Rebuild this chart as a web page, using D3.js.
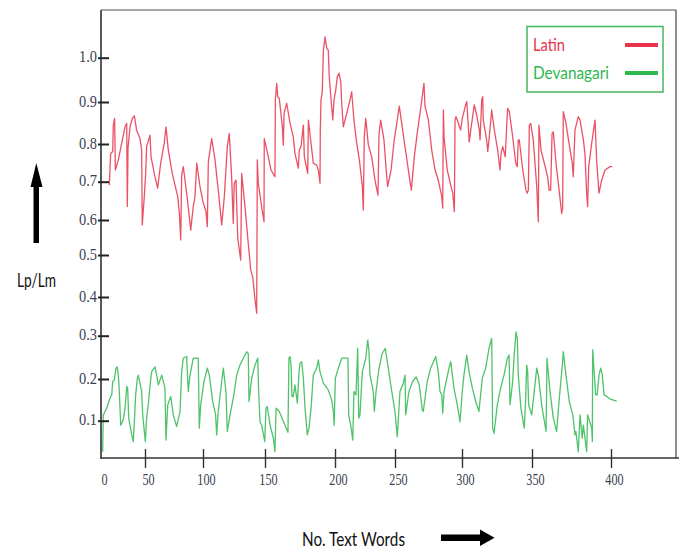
<!DOCTYPE html>
<html>
<head>
<meta charset="utf-8">
<script src="https://cdn.jsdelivr.net/npm/d3@7"></script>
<style>
  html, body { margin: 0; padding: 0; background: #ffffff; }
  svg { display: block; }
</style>
</head>
<body>
<script>
// ---------------- DATA ----------------
const seriesNames = ["Latin", "Devanagari"];
const xTicks = [0, 50, 100, 150, 200, 250, 300, 350, 400];
const yTicks = [0.1, 0.2, 0.3, 0.4, 0.5, 0.6, 0.7, 0.8, 0.9, 1.0];

const latinWords = [9.4, 11, 13.3, 14, 15.5, 16.3, 19.7, 23.5, 27.3, 29.2, 29.9, 30.7, 33, 35.6, 37.9, 40.5, 44.3, 46.2, 46.9, 49.2,
  50.6, 51.4, 54.3, 55.2, 58, 60.9, 63.5, 66.6, 68.1, 70.1, 73.5, 78.2, 79.6, 80.8, 81.6, 83, 85.9, 88.2, 89.4, 91.6,
  93.1, 94.6, 97.4, 100.2, 102.4, 103.5, 104.3, 107, 109.7, 112.3, 115.1, 117.2, 119.6, 121.2, 123.1, 124.4, 125.2, 126.6, 128, 130.4,
  131.2, 134.1, 136.5, 138.5, 140.1, 142, 143.3, 143.8, 144.6, 147.3, 149.2, 149.4, 152.4, 154.3, 157.1, 157.4, 158.4, 159.1, 160.2, 162.4,
  163.1, 163.6, 165.5, 167.9, 170.2, 171.4, 173.8, 174.5, 175.7, 177.4, 178.1, 180.5, 181, 182.6, 184.5, 186.9, 188.1, 189.3, 189.5, 190,
  190.9, 191.7, 192.9, 194.1, 195.2, 195.9, 196.9, 198.4, 199.3, 200.6, 201.9, 203.3, 204.8, 205.6, 206.9, 209.8, 212.5, 213.9, 215.8, 218.1,
  220.3, 222.8, 223.6, 224.4, 225.6, 227.8, 230.6, 233.3, 235.8, 236.7, 238.1, 240.8, 243.1, 243.9, 246.7, 249.4, 253.2, 255.7, 258.2, 260.7,
  262.2, 264.4, 266.9, 269.4, 271.6, 272.4, 274.9, 277.4, 279.9, 282.3, 284.9, 285.6, 286.1, 286.6, 289, 291.8, 293.1, 294.3, 294.8, 295.5,
  296.5, 299, 300.2, 302.6, 303.4, 304.5, 305.2, 306.4, 308.8, 310.5, 312.4, 312.9, 314.1, 314.8, 315.2, 317.6, 318.4, 319.5, 321.2, 323.1,
  325.5, 327.1, 327.9, 329.1, 330.9, 331.9, 332.6, 333.8, 335.9, 338.4, 339.5, 340.2, 340.9, 343.4, 345.7, 346.6, 347.4, 348.1, 349.1, 350.8,
  353, 354, 354.4, 355.7, 357.8, 359.9, 360.8, 361.8, 362.7, 363.5, 365.2, 366.9, 368.8, 369.4, 369.8, 371.5, 373.4, 375.5, 376.1, 377.2,
  379.3, 380.4, 382.5, 383.5, 384.6, 385.2, 385.9, 387.8, 389.9, 390.9, 392.4, 394.1, 396.2, 399.4, 400.8];
const latinValues = [0.691, 0.775, 0.78, 0.845, 0.861, 0.731, 0.758, 0.802, 0.841, 0.849, 0.635, 0.789, 0.841, 0.861, 0.867, 0.833, 0.813, 0.784, 0.586, 0.661,
  0.722, 0.793, 0.821, 0.766, 0.722, 0.683, 0.749, 0.802, 0.841, 0.784, 0.722, 0.661, 0.617, 0.543, 0.717, 0.74, 0.67, 0.609, 0.571, 0.635,
  0.661, 0.749, 0.687, 0.644, 0.622, 0.581, 0.753, 0.813, 0.758, 0.678, 0.586, 0.661, 0.793, 0.825, 0.713, 0.59, 0.696, 0.704, 0.548, 0.488,
  0.722, 0.626, 0.533, 0.464, 0.448, 0.392, 0.358, 0.758, 0.696, 0.635, 0.595, 0.813, 0.766, 0.731, 0.713, 0.905, 0.942, 0.912, 0.908, 0.841,
  0.797, 0.873, 0.897, 0.849, 0.817, 0.775, 0.736, 0.784, 0.793, 0.845, 0.766, 0.722, 0.857, 0.81, 0.749, 0.744, 0.731, 0.696, 0.833, 0.905,
  0.923, 1.017, 1.047, 1.021, 1.017, 0.957, 0.916, 0.857, 0.905, 0.927, 0.957, 0.965, 0.946, 0.897, 0.841, 0.873, 0.905, 0.923, 0.857, 0.802,
  0.758, 0.687, 0.626, 0.817, 0.861, 0.797, 0.766, 0.704, 0.665, 0.825, 0.857, 0.81, 0.713, 0.687, 0.731, 0.81, 0.89, 0.833, 0.775, 0.713,
  0.678, 0.766, 0.833, 0.89, 0.942, 0.89, 0.857, 0.784, 0.731, 0.704, 0.661, 0.631, 0.881, 0.817, 0.731, 0.687, 0.67, 0.622, 0.857, 0.865,
  0.857, 0.833, 0.861, 0.893, 0.901, 0.841, 0.805, 0.837, 0.893, 0.869, 0.833, 0.81, 0.905, 0.912, 0.857, 0.81, 0.78, 0.817, 0.881, 0.833,
  0.784, 0.731, 0.775, 0.793, 0.766, 0.841, 0.885, 0.877, 0.825, 0.749, 0.74, 0.81, 0.81, 0.731, 0.678, 0.67, 0.678, 0.845, 0.849, 0.81,
  0.687, 0.595, 0.845, 0.784, 0.749, 0.713, 0.678, 0.678, 0.825, 0.829, 0.749, 0.687, 0.617, 0.631, 0.877, 0.849, 0.802, 0.749, 0.713, 0.833,
  0.865, 0.857, 0.81, 0.775, 0.67, 0.635, 0.74, 0.802, 0.857, 0.758, 0.67, 0.704, 0.731, 0.74, 0.74];

const devanagariWords = [1.9, 2.6, 6.5, 10.2, 12.2, 13.3, 15.1, 17, 18.5, 19.7, 20.8, 22.4, 25.3, 27.3, 29.2, 30.3, 31.5, 34.9, 36.7, 37.9,
  39.4, 41.3, 42.4, 46.2, 47.4, 50.3, 51.4, 52.8, 54.3, 55.7, 58.6, 60.1, 61.5, 64.4, 67.2, 68.1, 69.6, 72.2, 74.4, 77.3,
  80.2, 81.6, 83, 85.9, 87.3, 88.8, 91.6, 95.9, 96.8, 98, 100.8, 103.5, 105.1, 107.8, 110.2, 111, 112.3, 115.1, 116.4, 118.5,
  119.6, 121.8, 124.4, 127.2, 129.8, 132.5, 135.2, 136.5, 137.1, 139.3, 141.9, 144.1, 144.9, 146, 147.3, 149.8, 150.7, 151.6, 153.6, 156,
  157.1, 157.9, 160.2, 162.6, 166.4, 167.1, 167.9, 168.6, 169.3, 170.2, 171.4, 173.1, 174.3, 175, 176.2, 177.4, 178.6, 180.2, 181.4, 182.9,
  184.5, 186.9, 188.1, 189.3, 191.7, 195.2, 197.6, 198.8, 199.4, 200.3, 202.8, 205.6, 210.8, 211.4, 213.1, 214.8, 215.8, 217.5, 218.9, 219.8,
  220.8, 222.8, 225.6, 227.3, 228.3, 229.2, 231.9, 232.8, 234.2, 236.7, 239.4, 241.9, 244.4, 247.3, 250, 251.7, 253.7, 256.2, 257.5, 258,
  260.4, 263.2, 265.7, 268.1, 270.4, 271.1, 274.1, 276.6, 280.4, 282.3, 283.6, 284.9, 285.6, 286.6, 290.3, 291.6, 294, 296.5, 298.5, 300.2,
  301.4, 303.4, 305, 307.4, 309.8, 312.1, 314.5, 316.9, 319.3, 321.2, 321.9, 322.9, 325.2, 327.6, 330, 332.4, 333.6, 334.3, 336.2, 337.1,
  338.6, 339.5, 340.2, 342.1, 344.5, 345.5, 346.2, 346.9, 347.6, 349.8, 353, 354, 356.1, 358.9, 359.5, 361.4, 363.5, 365.6, 367.1, 369.2,
  369.8, 371.5, 373.6, 375.8, 377.2, 377.8, 379.3, 380.4, 381.8, 382.5, 384.6, 385.2, 387.8, 388.2, 388.4, 389.2, 390.3, 391.3, 392.4, 393.5,
  394.5, 395.6, 397.3, 399.4, 403.6];
const devanagariValues = [0.017, 0.114, 0.13, 0.154, 0.162, 0.194, 0.198, 0.225, 0.228, 0.209, 0.17, 0.088, 0.102, 0.13, 0.182, 0.178, 0.106, 0.062, 0.044, 0.097,
  0.162, 0.202, 0.209, 0.17, 0.114, 0.044, 0.106, 0.138, 0.182, 0.217, 0.228, 0.209, 0.186, 0.209, 0.178, 0.048, 0.138, 0.158, 0.114, 0.084,
  0.122, 0.217, 0.248, 0.252, 0.17, 0.209, 0.248, 0.248, 0.08, 0.138, 0.194, 0.225, 0.209, 0.146, 0.114, 0.062, 0.122, 0.194, 0.225, 0.17,
  0.071, 0.114, 0.154, 0.209, 0.232, 0.248, 0.263, 0.259, 0.146, 0.202, 0.232, 0.248, 0.17, 0.097, 0.088, 0.044, 0.13, 0.134, 0.088, 0.053,
  0.017, 0.13, 0.122, 0.102, 0.069, 0.248, 0.252, 0.232, 0.158, 0.158, 0.186, 0.142, 0.217, 0.236, 0.24, 0.202, 0.13, 0.062, 0.08, 0.13,
  0.209, 0.225, 0.244, 0.217, 0.19, 0.174, 0.15, 0.122, 0.088, 0.202, 0.225, 0.248, 0.248, 0.114, 0.088, 0.048, 0.17, 0.162, 0.271, 0.106,
  0.114, 0.217, 0.248, 0.29, 0.263, 0.209, 0.17, 0.122, 0.17, 0.225, 0.259, 0.271, 0.225, 0.17, 0.122, 0.057, 0.17, 0.19, 0.209, 0.114,
  0.17, 0.194, 0.205, 0.186, 0.126, 0.122, 0.194, 0.225, 0.252, 0.217, 0.17, 0.162, 0.118, 0.17, 0.225, 0.24, 0.178, 0.138, 0.097, 0.17,
  0.209, 0.255, 0.217, 0.178, 0.146, 0.122, 0.202, 0.225, 0.271, 0.294, 0.08, 0.066, 0.138, 0.178, 0.209, 0.248, 0.255, 0.138, 0.194, 0.248,
  0.31, 0.294, 0.209, 0.13, 0.08, 0.154, 0.232, 0.217, 0.138, 0.114, 0.225, 0.209, 0.138, 0.071, 0.248, 0.17, 0.106, 0.071, 0.146, 0.232,
  0.263, 0.209, 0.146, 0.114, 0.062, 0.071, 0.017, 0.114, 0.053, 0.088, 0.017, 0.114, 0.08, 0.044, 0.267, 0.225, 0.162, 0.162, 0.209, 0.225,
  0.209, 0.162, 0.158, 0.152, 0.147];

const seriesColors = ["#e8334a", "#30b84f"];

// ---------------- CHART ----------------
const W = 684, H = 549;
const svg = d3.select("body").append("svg").attr("width", W).attr("height", H);

const x = d3.scaleLinear()
  .domain(xTicks)
  .range([101, 145, 203, 265, 335, 395, 462, 532, 611]);
const y = d3.scaleLinear()
  .domain([0].concat(yTicks))
  .range([458, 420.7, 379, 335.7, 297, 255, 220, 181.7, 144, 102, 57.7]);

// frame
svg.append("line").attr("x1", 101).attr("x2", 676).attr("y1", 10).attr("y2", 10)
  .attr("stroke", "#8a8a8a").attr("stroke-width", 1.6);
svg.append("line").attr("x1", 676).attr("x2", 676).attr("y1", 10).attr("y2", 458)
  .attr("stroke", "#666").attr("stroke-width", 1.5);
svg.append("line").attr("x1", 101).attr("x2", 101).attr("y1", 10).attr("y2", 459)
  .attr("stroke", "#5a5a5a").attr("stroke-width", 2);

// series lines
const line = d3.line().x(d => x(d[0])).y(d => y(d[1]));
const latinData = latinWords.map((w, i) => [w, latinValues[i]]);
const devaData = devanagariWords.map((w, i) => [w, devanagariValues[i]]);

svg.append("path").datum(latinData).attr("d", line)
  .attr("fill", "none").attr("stroke", seriesColors[0]).attr("stroke-width", 1.3)
  .attr("stroke-opacity", 0.85).attr("stroke-linejoin", "round");
svg.append("path").datum(devaData).attr("d", line)
  .attr("fill", "none").attr("stroke", seriesColors[1]).attr("stroke-width", 1.3)
  .attr("stroke-opacity", 0.85).attr("stroke-linejoin", "round");

// y axis
const yAxis = svg.append("g").attr("transform", "translate(101,0)")
  .call(d3.axisLeft(y).tickValues(yTicks).tickFormat(d3.format(".1f")).tickSize(3));
yAxis.select(".domain").remove();
yAxis.selectAll(".tick line").attr("x1", -3).attr("x2", 8)
  .attr("stroke", "#222").attr("stroke-width", 2);
yAxis.selectAll(".tick text")
  .attr("x", -4).attr("dy", "0.25em")
  .attr("fill", "#3b4150")
  .style("font-family", "'Liberation Serif', 'DejaVu Serif', serif")
  .style("font-size", "16px")
  .attr("textLength", 18).attr("lengthAdjust", "spacingAndGlyphs");

// x axis
const xAxis = svg.append("g").attr("transform", "translate(0,458)")
  .call(d3.axisBottom(x).tickValues(xTicks).tickFormat(d3.format("d")).tickSize(10));
xAxis.select(".domain").attr("d", "M101,0H679").attr("stroke", "#333").attr("stroke-width", 1.6);
xAxis.selectAll(".tick line").attr("y1", -9).attr("y2", 10)
  .attr("stroke", "#333").attr("stroke-width", 1.4);
xAxis.selectAll(".tick").filter(d => d === 0).select("line").remove();
xAxis.selectAll(".tick text")
  .attr("y", 16).attr("dx", 3).attr("dy", "0.71em")
  .attr("fill", "#3b4150")
  .style("font-family", "'Liberation Serif', 'DejaVu Serif', serif")
  .style("font-size", "16px")
  .attr("textLength", d => String(d).length * 6.1).attr("lengthAdjust", "spacingAndGlyphs");

// axis titles
svg.append("text").attr("x", 17).attr("y", 287).text("Lp/Lm")
  .attr("fill", "#111").style("font-family", "Lato, 'Open Sans', sans-serif").style("font-size", "19px")
  .attr("textLength", 39).attr("lengthAdjust", "spacingAndGlyphs");
svg.append("text").attr("x", 302).attr("y", 546).text("No. Text Words")
  .attr("fill", "#111").style("font-family", "Lato, 'Open Sans', sans-serif").style("font-size", "19px")
  .attr("textLength", 103).attr("lengthAdjust", "spacingAndGlyphs");

// arrows
svg.append("rect").attr("x", 33.5).attr("y", 184).attr("width", 5.5).attr("height", 59).attr("fill", "#000");
svg.append("path").attr("d", "M30.5,187L42.5,187L36.3,163Z").attr("fill", "#000");
svg.append("rect").attr("x", 441).attr("y", 534.5).attr("width", 41).attr("height", 6.5).attr("fill", "#000");
svg.append("path").attr("d", "M480,529.5L480,546L494.5,537.7Z").attr("fill", "#000");

// legend
const legend = svg.append("g");
legend.append("rect").attr("x", 527).attr("y", 26.5).attr("width", 136).attr("height", 65.5)
  .attr("fill", "#fff").attr("stroke", "#45b85c").attr("stroke-width", 1.5);
const legY = [51, 79];
const legW = [32, 76];
seriesNames.forEach((name, i) => {
  legend.append("text").attr("x", 533).attr("y", legY[i]).text(name)
    .attr("fill", seriesColors[i])
    .style("font-family", "Lato, 'Open Sans', sans-serif").style("font-size", "18px")
    .attr("textLength", legW[i]).attr("lengthAdjust", "spacingAndGlyphs");
  legend.append("line").attr("x1", 625).attr("x2", 658)
    .attr("y1", legY[i] - 6).attr("y2", legY[i] - 6)
    .attr("stroke", seriesColors[i]).attr("stroke-width", 4);
});
</script>
</body>
</html>
